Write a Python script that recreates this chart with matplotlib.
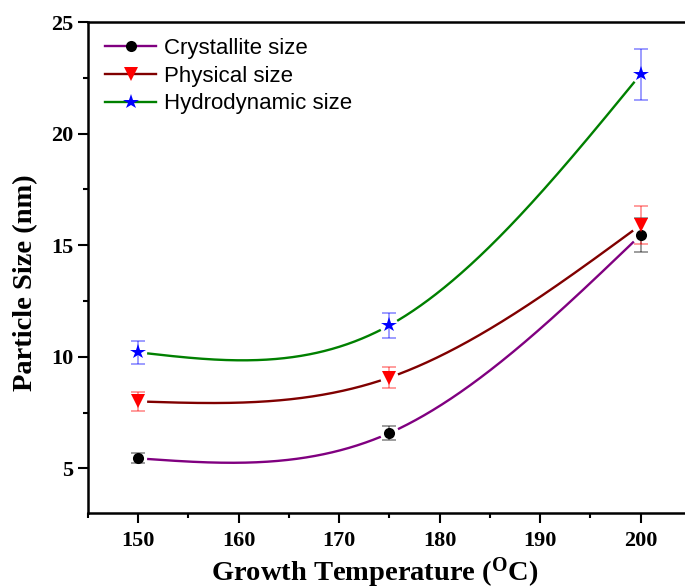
import numpy as np
import matplotlib
matplotlib.use("Agg")
import matplotlib.pyplot as plt
from matplotlib.ticker import MultipleLocator
from matplotlib.lines import Line2D

plt.rcParams['mathtext.fontset'] = 'custom'
plt.rcParams['mathtext.rm'] = 'Liberation Serif:bold'
plt.rcParams['mathtext.bf'] = 'Liberation Serif:bold'

# ---- data ----
temperature = [150, 175, 200]
crystallite = [5.45, 6.58, 15.45]
crystallite_err = [0.22, 0.32, 0.75]
physical = [8.0, 9.07, 15.9]
physical_err = [0.42, 0.45, 0.85]
hydrodynamic = [10.2, 11.41, 22.65]
hydrodynamic_err = [0.52, 0.56, 1.15]
labels = ["Crystallite size", "Physical size", "Hydrodynamic size"]
x_ticks = [150, 160, 170, 180, 190, 200]
y_ticks = [5, 10, 15, 20, 25]


def natural_spline(x, y, xs):
    x = np.asarray(x, float); y = np.asarray(y, float)
    n = len(x)
    h = np.diff(x)
    A = np.zeros((n, n)); b = np.zeros(n)
    A[0, 0] = 1; A[-1, -1] = 1
    for i in range(1, n - 1):
        A[i, i - 1] = h[i - 1]
        A[i, i] = 2 * (h[i - 1] + h[i])
        A[i, i + 1] = h[i]
        b[i] = 6 * ((y[i + 1] - y[i]) / h[i] - (y[i] - y[i - 1]) / h[i - 1])
    M = np.linalg.solve(A, b)
    out = np.empty_like(xs)
    for k, xv in enumerate(xs):
        i = min(max(np.searchsorted(x, xv) - 1, 0), n - 2)
        hi = h[i]
        a = x[i + 1] - xv; c = xv - x[i]
        out[k] = (M[i] * a ** 3 / (6 * hi) + M[i + 1] * c ** 3 / (6 * hi)
                  + (y[i] / hi - M[i] * hi / 6) * a + (y[i + 1] / hi - M[i + 1] * hi / 6) * c)
    return out


fig = plt.figure(figsize=(6.85, 5.88), dpi=100)
ax = fig.add_axes([88 / 685, 1 - 513 / 588, 653 / 685, (513 - 22) / 588])
ax.set_xlim(145, 210)
ax.set_ylim(3, 25)

series = [
    (crystallite, crystallite_err, '#800080', 'o', 'black', 8),
    (physical, physical_err, '#800000', 'v', 'red', 9.5),
    (hydrodynamic, hydrodynamic_err, '#008000', '*', 'blue', 11.5),
]

xs = np.linspace(150, 200, 600)
handles = []
for (vals, errs, lc, mk, mc, ms), lab in zip(series, labels):
    ys = natural_spline(temperature, vals, xs)
    pix = ax.transData.transform(np.column_stack([xs, ys]))
    dpts = ax.transData.transform(np.column_stack([temperature, vals]))
    mask = np.zeros(len(xs), bool)
    for p in dpts:
        mask |= np.hypot(pix[:, 0] - p[0], pix[:, 1] - p[1]) < 10
    ys_m = np.ma.masked_where(mask, ys)
    ax.plot(xs, ys_m, color=lc, lw=1.7, zorder=2)
    ax.errorbar(temperature, vals, yerr=errs, fmt='none', ecolor=mc, alpha=0.45,
                elinewidth=1.2, capsize=5, capthick=1.2, zorder=3)
    ax.plot(temperature, vals, linestyle='none', marker=mk, color=mc, ms=ms,
            markeredgewidth=0, zorder=4)
    handles.append(Line2D([], [], color=lc, lw=1.7, marker=mk, markerfacecolor=mc,
                          markeredgecolor=mc, markeredgewidth=0, ms=ms))

leg = ax.legend(handles, labels, loc='upper left', frameon=False,
                prop={'family': 'Liberation Sans', 'size': 16},
                handlelength=2.3, handletextpad=0.35, labelspacing=0.3,
                borderaxespad=0.0, borderpad=0.0,
                bbox_to_anchor=(17 / 653, 1 - 16 / 491))

ax.set_xticks(x_ticks)
ax.set_yticks(y_ticks)
ax.xaxis.set_minor_locator(MultipleLocator(5))
ax.yaxis.set_minor_locator(MultipleLocator(2.5))
for lab in ax.get_xticklabels() + ax.get_yticklabels():
    lab.set_fontfamily('Liberation Serif')
    lab.set_fontweight('bold')
    lab.set_fontsize(16)
ax.tick_params(which='major', direction='out', length=7, width=1.5)
ax.tick_params(which='minor', direction='out', length=3.6, width=1.5)
ax.tick_params(axis='x', which='major', pad=6)
ax.tick_params(axis='y', which='major', pad=3.5)
for s in ax.spines.values():
    s.set_linewidth(1.8)

ax.set_xlabel(r'Growth Temperature ($\mathbf{^{O}}$C)', fontfamily='Liberation Serif',
              fontweight='bold', fontsize=20.5)
ax.xaxis.set_label_coords((375 - 88) / 653, -(555 - 513) / 491)
ax.set_ylabel('Particle Size (nm)', fontfamily='Liberation Serif',
              fontweight='bold', fontsize=20.5)
ax.yaxis.set_label_coords(-(88 - 38) / 653, 1 - (283 - 22) / 491)

fig.savefig('out.png', dpi=100)
